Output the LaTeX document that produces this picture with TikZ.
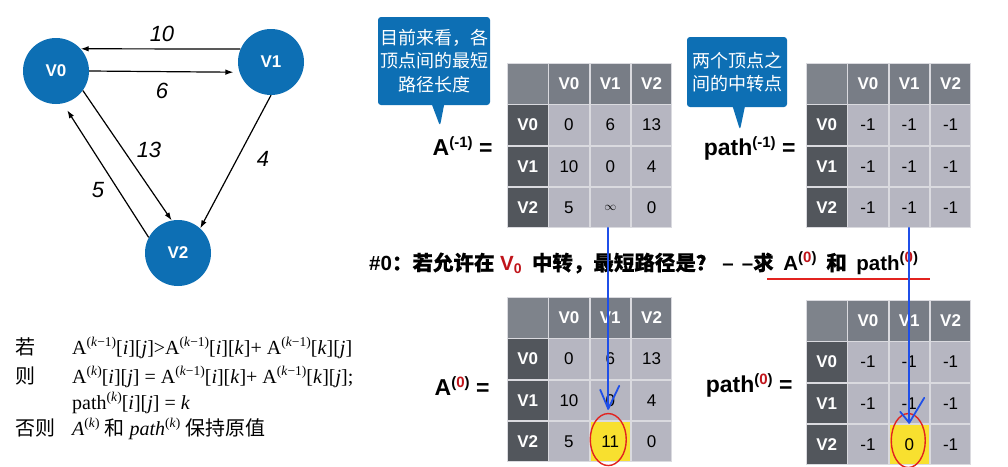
\documentclass[tikz,border=0pt]{standalone}
\usepackage{fontspec}
\setmainfont{Liberation Serif}
\setsansfont{Liberation Sans}
\newfontfamily\cjk{Noto Sans CJK SC}
\newfontfamily\cjkb{Noto Sans CJK SC}[FakeBold=0.3]
\usetikzlibrary{arrows.meta,shapes.callouts,matrix,calc}
\definecolor{nodeblue}{HTML}{0D6FB4}
\definecolor{hdrc}{HTML}{787D86}
\definecolor{cornerc}{HTML}{7E838B}
\definecolor{darkc}{HTML}{52565C}
\definecolor{cellc}{HTML}{B6B6C1}
\definecolor{gridc}{HTML}{DADADF}
\definecolor{yel}{HTML}{F8E02F}
\definecolor{penblue}{HTML}{1F4FE8}
\definecolor{penred}{HTML}{E2231F}
\definecolor{dred}{HTML}{C0141A}
\newcommand\spr[1]{\raisebox{0.40em}{\fontsize{13.5}{13.5}\selectfont #1}}
\newcommand\supb[1]{\raisebox{8pt}{\fontsize{15}{15}\selectfont\bfseries #1}}
\tikzset{
  vert/.style={circle, fill=nodeblue, minimum size=66pt, inner sep=0pt, text=white, font=\sffamily\bfseries\fontsize{17}{17}\selectfont},
  edge/.style={line width=1.2pt, -{Latex[length=8pt,width=5.5pt]}},
  wlabel/.style={font=\sffamily\itshape\fontsize{22}{22}\selectfont},
  cellbox/.style={draw=gridc, line width=0.8pt, fill=cellc, minimum width=40.5pt, minimum height=40.5pt, inner sep=0pt, outer sep=0pt, anchor=center, text=black, font=\sffamily\fontsize{17}{17}\selectfont},
  hdrbox/.style={fill=hdrc, text=white, font=\sffamily\bfseries\fontsize{17}{17}\selectfont},
  darkbox/.style={fill=darkc, text=white, font=\sffamily\bfseries\fontsize{17}{17}\selectfont},
  cornerbox/.style={fill=cornerc},
  yelbox/.style={fill=yel},
  tbl/.style={matrix of nodes, nodes in empty cells, column sep=0pt, row sep=0pt, inner sep=0pt, outer sep=0pt, anchor=north west,
    nodes={cellbox}, row 1/.style={nodes={hdrbox}}, column 1/.style={nodes={darkbox}}, row 1 column 1/.style={nodes={cornerbox}}},
  callbox/.style={rectangle callout, fill=nodeblue, rounded corners=3pt, text=white, align=center, inner sep=0pt, callout pointer width=12pt},
  eqlabel/.style={anchor=east, font=\sffamily\bfseries\fontsize{23}{23}\selectfont},
  formula/.style={anchor=base west, font=\fontsize{20}{20}\selectfont, inner sep=0pt},
  pen/.style={penblue, line width=1.8pt, line cap=round, line join=round},
  redpen/.style={penred, line width=1.4pt}
}
\begin{document}
\begin{tikzpicture}[x=1pt,y=-1pt]
\useasboundingbox (0,0) rectangle (1008,466);
\fill[white] (0,0) rectangle (1008,466);

% graph
\node[vert] (V0) at (56,71) {V0};
\node[vert] (V1) at (271,62) {V1};
\node[vert] (V2) at (178,253) {V2};
\draw[edge] (V1.157) -- (V0.42);
\draw[edge, shorten >=6pt] (V0.east) -- (V1.198);
\draw[edge] (V0.-36) -- (V2.101);
\draw[edge, shorten >=8pt] (V2.152) -- (V0.282);
\draw[edge] (V1.270) -- (V2.48);
\node[wlabel] (l10) at (162,34) {10};
\node[wlabel] (l6) at (162,91) {6};
\node[wlabel] (l13) at (149,150) {13};
\node[wlabel] (l5) at (98,190) {5};
\node[wlabel] (l4) at (263,159) {4};

% rules text
\node[formula] (r1c) at (15,354) {\cjk 若};
\node[formula] (r1) at (72,354) {A\spr{(\textit{k}−1)}[\textit{i}][\textit{j}]>A\spr{(\textit{k}−1)}[\textit{i}][\textit{k}]+ A\spr{(\textit{k}−1)}[\textit{k}][\textit{j}]};
\node[formula] (r2c) at (15,383) {\cjk 则};
\node[formula] (r2) at (72,383) {A\spr{(\textit{k})}[\textit{i}][\textit{j}] = A\spr{(\textit{k}−1)}[\textit{i}][\textit{k}]+ A\spr{(\textit{k}−1)}[\textit{k}][\textit{j}];};
\node[formula] (r3) at (72,409) {path\spr{(\textit{k})}[\textit{i}][\textit{j}] = \textit{k}};
\node[formula] (r4c) at (15,435) {\cjk 否则};
\node[formula] (r4) at (72,435) {\textit{A}\spr{(\textit{k})} {\cjk 和} \textit{path}\spr{(\textit{k})} {\cjk 保持原值}};

% tables
\matrix (m1) [tbl] at (507,63) {
  & V0 & V1 & V2 \\
V0 & 0 & 6 & 13 \\
V1 & 10 & 0 & 4 \\
V2 & 5 & {\fontsize{12}{12}\selectfont$\infty$} & 0 \\
};
\matrix (p1) [tbl] at (806,63) {
  & V0 & V1 & V2 \\
V0 & -1 & -1 & -1 \\
V1 & -1 & -1 & -1 \\
V2 & -1 & -1 & -1 \\
};
\matrix (m2) [tbl, row 4 column 3/.style={nodes={yelbox}}] at (507,297) {
  & V0 & V1 & V2 \\
V0 & 0 & 6 & 13 \\
V1 & 10 & 0 & 4 \\
V2 & 5 & 11 & 0 \\
};
\matrix (p2) [tbl, row 4 column 3/.style={nodes={yelbox}}] at (806,300) {
  & V0 & V1 & V2 \\
V0 & -1 & -1 & -1 \\
V1 & -1 & -1 & -1 \\
V2 & -1 & 0 & -1 \\
};

% equation labels
\node[eqlabel] (la1) at (496,146) {A\supb{(-1)} =};
\node[eqlabel] (lp1) at (799,148) {path\supb{(-1)} =};
\node[eqlabel] (la2) at (493,386) {A\supb{(\textcolor{dred}{0})} =};
\node[eqlabel] (lp2) at (796,385) {path\supb{(\textcolor{dred}{0})} =};

% callouts
\node[callbox, minimum width=112pt, minimum height=88pt, callout absolute pointer={(440,126)}, font={\cjk\fontsize{18}{23.5}\selectfont}] (c1) at (434,61)
  {目前来看，各\\ 顶点间的最短\\ 路径长度};
\node[callbox, minimum width=100pt, minimum height=70pt, callout absolute pointer={(740,130)}, font={\cjk\fontsize{18}{23}\selectfont}] (c2) at (737,72)
  {两个顶点之\\ 间的中转点};

% middle line
\node[anchor=west, inner sep=0pt, font=\sffamily\bfseries\fontsize{20.5}{20.5}\selectfont] (mid) at (369,263)
  {\#0{\cjkb ：若允许在} \textcolor{dred}{V\raisebox{-3pt}{\fontsize{14}{14}\selectfont 0}}\enspace{\cjkb 中转，最短路径是？}\hspace{6pt}–\kern8pt–{\cjkb 求}\hspace{4pt} A\supb{(\textcolor{dred}{0})}\hspace{4pt} {\cjkb 和}\hspace{4pt} path\supb{(\textcolor{dred}{0})}};
\coordinate (ul1) at (767,279);
\coordinate (ul2) at (930,279);
\draw[penred, line width=1.2pt] (ul1) -- (ul2);

% red ellipses
\draw[redpen] (m2-4-3.center) ++(-2,-2) ellipse [x radius=18pt, y radius=26pt];
\draw[redpen] (p2-4-3.center) ++(-1,-4) ellipse [x radius=17pt, y radius=27pt];

% blue pen strokes
\coordinate (b1e) at ($(m1-4-3.south)+(-2,181)$);
\draw[pen] ($(m1-4-3.south)+(-2,0)$) -- (b1e);
\draw[pen] ($(b1e)+(-8,-19)$) -- (b1e) -- ($(b1e)+(11,-23)$);
\coordinate (b2e) at ($(p1-4-3.south)+(0,195)$);
\draw[pen] (p1-4-3.south) -- (b2e);
\draw[pen] ($(b2e)+(-9,-11)$) -- (b2e) -- ($(b2e)+(15,-25)$);
\end{tikzpicture}
\end{document}
